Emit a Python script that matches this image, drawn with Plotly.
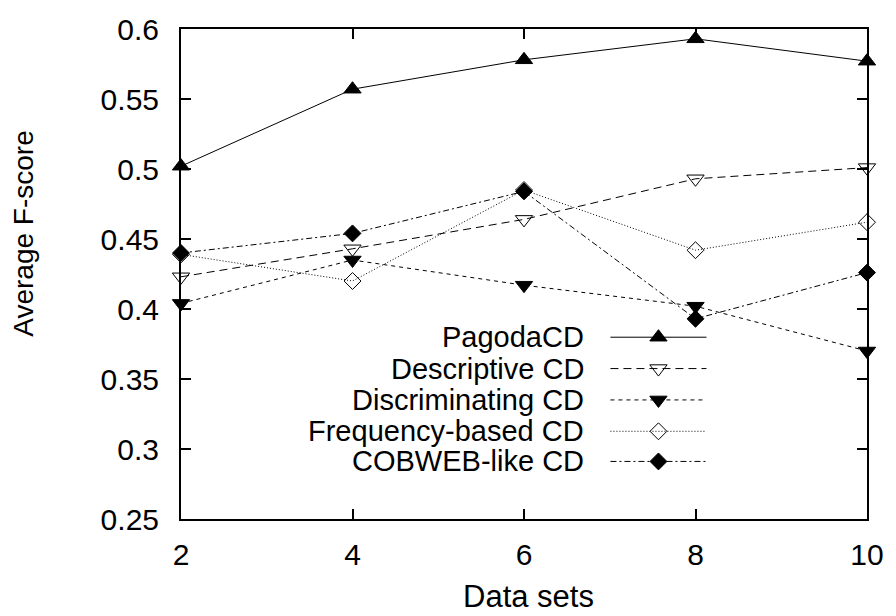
import plotly.graph_objects as go

# ---- data ----
data_sets = [2, 4, 6, 8, 10]
pagoda_cd = [0.502, 0.557, 0.578, 0.593, 0.577]
descriptive_cd = [0.423, 0.443, 0.464, 0.493, 0.501]
discriminating_cd = [0.404, 0.435, 0.417, 0.402, 0.370]
frequency_cd = [0.439, 0.420, 0.485, 0.442, 0.462]
cobweb_cd = [0.440, 0.454, 0.484, 0.393, 0.426]

series_names = ["PagodaCD", "Descriptive CD", "Discriminating CD",
                "Frequency-based CD", "COBWEB-like CD"]
y_tick_vals = [0.25, 0.3, 0.35, 0.4, 0.45, 0.5, 0.55, 0.6]
y_tick_text = ["0.25", "0.3", "0.35", "0.4", "0.45", "0.5", "0.55", "0.6"]
x_tick_vals = [2, 4, 6, 8, 10]

# ---- styles ----
FONT = "Liberation Sans, Arial, Helvetica, sans-serif"
styles = [
    dict(dash="solid", symbol="triangle-up", size=15),
    dict(dash="8px,5px", symbol="triangle-down-open", size=15),
    dict(dash="4px,4px", symbol="triangle-down", size=15),
    dict(dash="1px,2px", symbol="diamond-open", size=13),
    dict(dash="6px,3px,2px,3px", symbol="diamond", size=13),
]
values = [pagoda_cd, descriptive_cd, discriminating_cd, frequency_cd, cobweb_cd]

fig = go.Figure()
for name, vals, st in zip(series_names, values, styles):
    fig.add_trace(go.Scatter(
        x=data_sets, y=vals, name=name, mode="lines+markers",
        line=dict(color="black", width=1, dash=st["dash"]),
        marker=dict(symbol=st["symbol"], size=st["size"], color="black",
                    line=dict(color="black", width=1)),
        cliponaxis=False, showlegend=False,
    ))

# ---- custom legend (text right-aligned, sample to its right) ----
leg_x0, leg_x1, leg_xm = 0.626, 0.766, 0.696
leg_text_x = 0.589
leg_rows = [0.371, 0.307, 0.243, 0.179, 0.1175]
for name, st, ry in zip(series_names, styles, leg_rows):
    fig.add_trace(go.Scatter(
        x=[leg_x0, leg_xm, leg_x1], y=[ry, ry, ry], mode="lines",
        line=dict(color="black", width=1, dash=st["dash"]),
        xaxis="x2", yaxis="y2", showlegend=False, hoverinfo="skip",
        cliponaxis=False,
    ))
    fig.add_trace(go.Scatter(
        x=[leg_xm], y=[ry], mode="markers",
        marker=dict(symbol=st["symbol"], size=st["size"], color="black",
                    line=dict(color="black", width=1)),
        xaxis="x2", yaxis="y2", showlegend=False, hoverinfo="skip",
        cliponaxis=False,
    ))
    fig.add_annotation(x=leg_text_x, y=ry, xref="paper", yref="paper",
                       text=name, showarrow=False, xanchor="right",
                       yanchor="middle", borderpad=0,
                       font=dict(family=FONT, size=29, color="black"))

axis_common = dict(
    showgrid=False, zeroline=False, showline=True, linecolor="black",
    linewidth=2, mirror="allticks", ticks="inside", ticklen=10,
    tickwidth=1.5, tickcolor="black",
    tickfont=dict(family=FONT, size=30, color="black"),
)

fig.update_layout(
    width=896, height=616,
    margin=dict(l=181, r=27, t=23, b=97),
    paper_bgcolor="white", plot_bgcolor="white",
    xaxis=dict(range=[2, 10], tickvals=x_tick_vals, ticklabelstandoff=8,
               **axis_common),
    yaxis=dict(range=[0.25, 0.6], tickvals=y_tick_vals, ticktext=y_tick_text,
               ticklabelstandoff=14, **axis_common),
    xaxis2=dict(overlaying="x", range=[0, 1], visible=False),
    yaxis2=dict(overlaying="y", range=[0, 1], visible=False),
    font=dict(family=FONT, color="black"),
)

fig.add_annotation(x=-0.2297, y=0.583, xref="paper", yref="paper",
                   text="Average F-score", textangle=-90, showarrow=False,
                   xanchor="center", yanchor="middle",
                   font=dict(family=FONT, size=28, color="black"))
fig.add_annotation(x=0.506, y=-0.159, xref="paper", yref="paper",
                   text="Data sets", showarrow=False,
                   xanchor="center", yanchor="middle",
                   font=dict(family=FONT, size=31, color="black"))

fig.write_html("out.html")
